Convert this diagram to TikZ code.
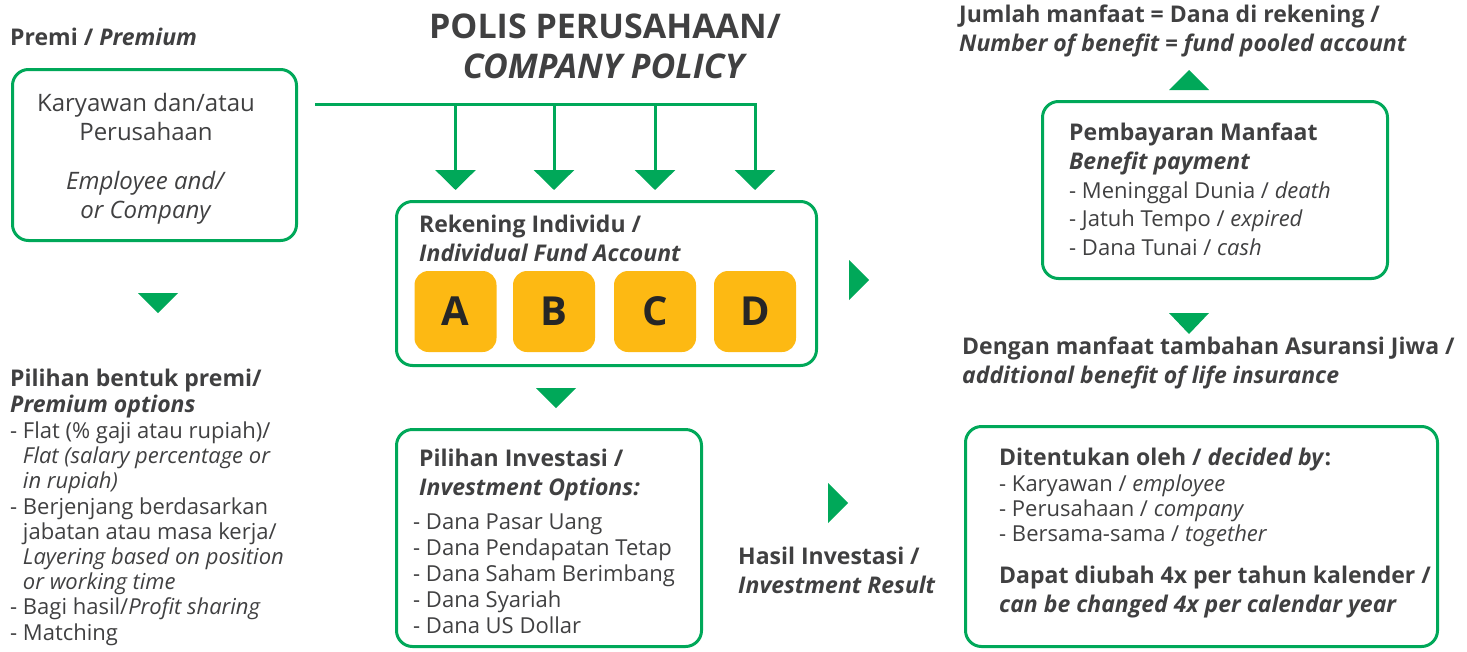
\documentclass[tikz,border=0pt]{standalone}
\usepackage{fontspec}
\setmainfont{Open Sans}
\usetikzlibrary{arrows.meta,calc,positioning}

\definecolor{pgreen}{HTML}{00A859}
\definecolor{pyellow}{HTML}{FDB913}
\definecolor{pgray}{HTML}{404041}

% Multi-line nodes below are placed at the baseline of their last line.
\tikzset{
  box/.style={draw=pgreen, line width=3pt, rounded corners=16pt, inner sep=0pt},
  acct/.style={fill=pyellow, rounded corners=14pt, minimum width=82pt, minimum height=81pt, text=black!85, font=\fontsize{40}{40}\selectfont\bfseries},
  txt/.style={anchor=base west, inner sep=0pt, align=left, text=pgray, font=\fontsize{22}{25.7}\selectfont},
  head/.style={txt, font=\fontsize{23}{28.5}\selectfont\bfseries},
  tri/.style={fill=pgreen},
  link/.style={draw=pgreen, line width=3pt},
}

\begin{document}
\begin{tikzpicture}[x=1pt, y=-1pt]
        \useasboundingbox (0,0) rectangle (1467,651);

        % Title.
        \node[head, anchor=base, align=center, font=\fontsize{34}{40}\selectfont\bfseries] (title) at (605,78) {POLIS PERUSAHAAN/\\\textit{COMPANY POLICY}};

        % Premium.
        \node[head] (premi) at (10,45) {Premi / \textit{Premium}};
        \node[box, minimum width=284pt, minimum height=171pt] (prem) at (154.5,155) {};
        \node[txt, anchor=base, align=center, font=\fontsize{24}{28.7}\selectfont] (premtxt) at (146,218) {Karyawan dan/atau\\Perusahaan\\[20pt]\textit{Employee and/}\\\textit{or Company}};
        \fill[tri] (138,293) -- ++(40,0) -- ++(-20,20) -- cycle;

        \node[head, font=\fontsize{23}{26}\selectfont\bfseries] (opt) at (10,412) {Pilihan bentuk premi/\\\textit{Premium options}};
        \node[txt, font=\fontsize{22}{25.2}\selectfont] (optlist) at (10,640) {- Flat (\% gaji atau rupiah)/\\\phantom{- }\textit{Flat (salary percentage or}\\\phantom{- }\textit{in rupiah)}\\- Berjenjang berdasarkan\\\phantom{- }jabatan atau masa kerja/\\\phantom{- }\textit{Layering based on position}\\\phantom{- }\textit{or working time}\\- Bagi hasil/\textit{Profit sharing}\\- Matching};

        % Individual accounts.
        \node[box, minimum width=420pt, minimum height=164pt] (rek) at (606.5,283.5) {};
        \node[head] (rektxt) at (419,261) {Rekening Individu /\\\textit{Individual Fund Account}};
        \foreach \s/\x in {A/455.5, B/554, C/655, D/755}
            \node[acct] (\s) at (\x,311.5) {\s};

        \coordinate (bus) at (316,104);
        \draw[link, line cap=rect] (bus) -- (bus -| D);
        \foreach \s in {A,B,C,D}
            \draw[link, -{Triangle[width=40pt,length=20pt]}, shorten >=10pt] (bus -| \s) -- (rek.north -| \s);
        \fill[tri] (536,388) -- ++(40,0) -- ++(-20,20) -- cycle;

        % Investment options.
        \node[box, minimum width=305pt, minimum height=217pt] (inv) at (549,538) {};
        \node[head] (invtxt) at (419,495) {Pilihan Investasi /\\\textit{Investment Options:}};
        \node[txt, font=\fontsize{22}{25.8}\selectfont] (invlist) at (413,633) {- Dana Pasar Uang\\- Dana Pendapatan Tetap\\- Dana Saham Berimbang\\- Dana Syariah\\- Dana US Dollar};

        \fill[tri] (828,483) -- ++(0,40) -- ++(20,-20) -- cycle;
        \node[head] (hasil) at (738,593) {Hasil Investasi /\\\textit{Investment Result}};

        \fill[tri] (849,260) -- ++(0,40) -- ++(20,-20) -- cycle;

        % Benefit payment.
        \node[head] (jml) at (959,51) {Jumlah manfaat = Dana di rekening /\\\textit{Number of benefit = fund pooled account}};
        \fill[tri] (1169,90) -- ++(40,0) -- ++(-20,-20) -- cycle;
        \node[box, minimum width=345pt, minimum height=177pt] (bayar) at (1215,190) {};
        \node[head] (bayartxt) at (1069,169) {Pembayaran Manfaat\\\textit{Benefit payment}};
        \node[txt, font=\fontsize{22}{28.5}\selectfont] (bayarlist) at (1069,255) {- Meninggal Dunia / \textit{death}\\- Jatuh Tempo / \textit{expired}\\- Dana Tunai / \textit{cash}};
        \fill[tri] (1169,313) -- ++(40,0) -- ++(-20,21) -- cycle;

        % Life insurance.
        \node[head] (jiwa) at (962,383) {Dengan manfaat tambahan Asuransi Jiwa /\\\textit{additional benefit of life insurance}};
        \node[box, minimum width=472pt, minimum height=220pt] (tentu) at (1201.5,536.5) {};
        \node[head] (tentutxt) at (999,465) {Ditentukan oleh / \textit{decided by}:};
        \node[txt, font=\fontsize{22}{25}\selectfont] (tentulist) at (999,541) {- Karyawan / \textit{employee}\\- Perusahaan / \textit{company}\\- Bersama-sama / \textit{together}};
        \node[head, font=\fontsize{23}{29}\selectfont\bfseries] (ubah) at (999,612) {Dapat diubah 4x per tahun kalender /\\\textit{can be changed 4x per calendar year}};

    \end{tikzpicture}
\end{document}
